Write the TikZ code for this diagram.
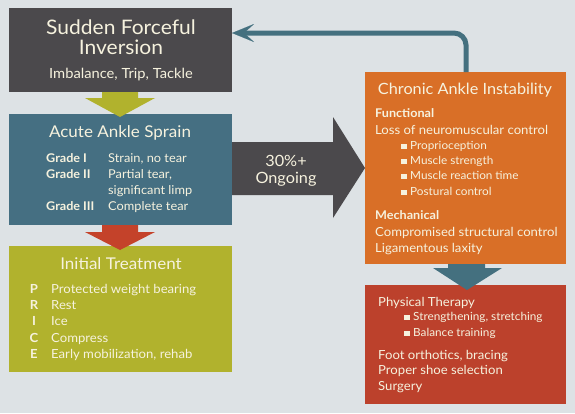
\documentclass[tikz,border=0pt]{standalone}
\usepackage{fontspec}
\setmainfont{Lato}[FakeStretch=1.05]
\usetikzlibrary{arrows.meta}
\definecolor{bg}{HTML}{DDE2E5}
\definecolor{darkc}{HTML}{4B494C}
\definecolor{tealc}{HTML}{456F82}
\definecolor{olivec}{HTML}{B1B22D}
\definecolor{orangec}{HTML}{D96F27}
\definecolor{redc}{HTML}{BC412C}
\definecolor{redarr}{HTML}{C4422A}
\definecolor{bluearr}{HTML}{44707F}
\definecolor{cream}{HTML}{F6F2DE}
\tikzset{
  box/.style={anchor=north west, inner sep=0pt, outer sep=0pt, draw=none},
  txt/.style={text=cream, inner sep=0pt, anchor=base west},
  ctxt/.style={text=cream, inner sep=0pt, anchor=base},
  big/.style={font=\fontsize{20}{20}\selectfont},
  head/.style={font=\fontsize{16.2}{18}\selectfont},
  body/.style={font=\fontsize{12.5}{14}\selectfont},
  small/.style={font=\fontsize{11.2}{13}\selectfont},
  loopline/.style={draw=bluearr, line width=5pt, rounded corners=12pt,
    -{Stealth[length=22pt,width=18pt,inset=10pt,line width=0.1pt]}}
}
\newcommand{\sqb}{\rule{5.5pt}{5.5pt}\hspace{3.5pt}}
\begin{document}
\begin{tikzpicture}[x=1pt,y=-1pt]
\fill[bg] (0,0) rectangle (575,413);
\useasboundingbox (0,0) rectangle (575,413);
% boxes
\node[box, fill=darkc, minimum width=223pt, minimum height=84pt] (b1) at (9,8) {};
\node[box, fill=tealc, minimum width=223pt, minimum height=111pt] (b2) at (9,114) {};
\node[box, fill=olivec, minimum width=223pt, minimum height=126pt] (b3) at (9,246) {};
\node[box, fill=orangec, minimum width=201pt, minimum height=192pt] (b4) at (365,72) {};
\node[box, fill=redc, minimum width=201pt, minimum height=119pt] (b5) at (365,285) {};
% block arrows
\fill[olivec] (102,92) -- (138,92) -- (138,98) -- (155,98) -- (120,117) -- (85,98) -- (102,98) -- cycle;
\fill[redarr] (102,225) -- (138,225) -- (138,232) -- (155,232) -- (120,250) -- (85,232) -- (102,232) -- cycle;
\fill[darkc] (232,142) -- (333,142) -- (333,117) -- (365,168) -- (333,218) -- (333,195) -- (232,195) -- cycle;
\fill[bluearr] (448,264) -- (485,264) -- (485,268) -- (502,268) -- (467,290) -- (433,268) -- (448,268) -- cycle;
% loop arrow
\coordinate (lp) at (466,33);
\draw[loopline] (b4.north -| lp) -- (lp) -- (b1.east |- lp);
% box 1 text
\node[ctxt, big] (t1a) at (121,34) {Sudden Forceful};
\node[ctxt, big] (t1b) at (121,54) {Inversion};
\node[ctxt, font=\fontsize{14}{15}\selectfont] (t1c) at (121,78) {Imbalance, Trip, Tackle};
% box 2 text
\node[ctxt, head] (t2) at (120,137) {Acute Ankle Sprain};
\node[txt, font=\fontsize{12}{14}\selectfont\bfseries] (g1) at (46,162) {Grade I};
\node[txt, font=\fontsize{12}{14}\selectfont\bfseries] (g2) at (46,178) {Grade II};
\node[txt, font=\fontsize{12}{14}\selectfont\bfseries] (g3) at (46,210) {Grade III};
\node[txt, font=\fontsize{12.2}{14}\selectfont] (d1) at (108,162) {Strain, no tear};
\node[txt, font=\fontsize{12.2}{14}\selectfont] (d2) at (108,178) {Partial tear,};
\node[txt, font=\fontsize{12.2}{14}\selectfont] (d2b) at (108,194) {significant limp};
\node[txt, font=\fontsize{12.2}{14}\selectfont] (d3) at (108,210) {Complete tear};
% box 3 text
\node[ctxt, head] (t3) at (121,269) {Initial Treatment};
\foreach \L/\T/\y [count=\i] in {P/{Protected weight bearing}/293, R/{Rest}/309, I/{Ice}/325, C/{Compress}/342, E/{Early mobilization, rehab}/358}{
  \node[ctxt, font=\fontsize{12.5}{14}\selectfont\bfseries] (pl\i) at (34,\y) {\L};
  \node[txt, body] (pt\i) at (51,\y) {\T};
}
% middle arrow text
\node[ctxt, font=\fontsize{15.5}{17}\selectfont] (m1) at (286,166) {30\%+};
\node[ctxt, font=\fontsize{15.5}{17}\selectfont] (m2) at (286,183) {Ongoing};
% box 4 text
\node[ctxt, font=\fontsize{15.5}{17}\selectfont] (t4) at (465,94) {Chronic Ankle Instability};
\node[txt, font=\fontsize{12}{14}\selectfont\bfseries] (f1) at (375,117) {Functional};
\node[txt, body] (f2) at (375,134) {Loss of neuromuscular control};
\node[txt, small] (f3) at (401,149) {\sqb Proprioception};
\node[txt, small] (f4) at (401,164) {\sqb Muscle strength};
\node[txt, small] (f5) at (401,179) {\sqb Muscle reaction time};
\node[txt, small] (f6) at (401,195) {\sqb Postural control};
\node[txt, font=\fontsize{12}{14}\selectfont\bfseries] (k1) at (375,219) {Mechanical};
\node[txt, body] (k2) at (375,236) {Compromised structural control};
\node[txt, body] (k3) at (375,252) {Ligamentous laxity};
% box 5 text
\node[txt, body] (r1) at (378,306) {Physical Therapy};
\node[txt, small] (r2) at (404,320) {\sqb Strengthening, stretching};
\node[txt, small] (r3) at (404,336) {\sqb Balance training};
\node[txt, body] (r4) at (378,359) {Foot orthotics, bracing};
\node[txt, body] (r5) at (378,374) {Proper shoe selection};
\node[txt, body] (r6) at (378,390) {Surgery};
\end{tikzpicture}
\end{document}
